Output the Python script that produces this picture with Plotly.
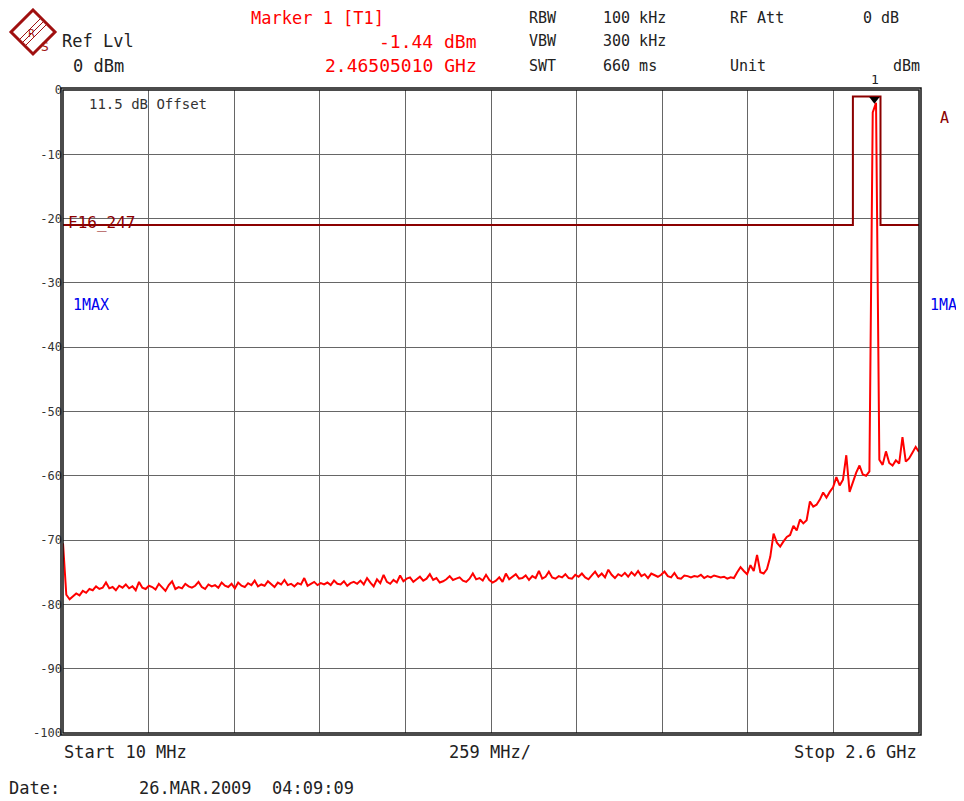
import plotly.graph_objects as go
import numpy as np

# sweep settings (MHz)
start_mhz = 10
stop_mhz = 2600
step_mhz = 10
div_mhz = 259

# trace 1 (max hold), dBm, one value per 10 MHz step from 10 MHz to 2600 MHz
trace_dbm = [
    -70.5, -78.5, -79.2, -78.8, -78.3, -78.6, -77.9, -78.2, -77.6, -77.8,
    -77.2, -77.6, -77.4, -76.6, -77.5, -77.3, -77.8, -77.1, -77.4, -76.9,
    -77.5, -77.2, -77.8, -76.5, -77.4, -77.6, -77.1, -77.3, -77.7, -76.8,
    -77.4, -77.9, -77.0, -76.4, -77.6, -77.3, -77.5, -76.8, -77.2, -77.4,
    -77.1, -76.5, -77.3, -77.6, -76.9, -77.2, -77.0, -77.4, -76.6, -77.1,
    -77.3, -76.8, -77.5, -76.6, -77.1, -77.3, -76.7, -77.0, -76.3, -77.2,
    -76.9, -77.1, -76.4, -76.8, -77.3, -76.6, -76.9, -76.2, -77.0, -76.8,
    -77.2, -76.7, -76.9, -75.9, -77.1, -76.8, -76.5, -77.0, -76.7, -76.9,
    -76.6, -77.0, -76.3, -76.8, -76.9, -76.4, -77.1, -76.7, -76.5, -76.8,
    -76.3, -76.9, -75.9, -76.6, -77.2, -76.1, -76.7, -75.4, -76.5, -76.8,
    -76.2, -76.6, -75.5, -76.4, -76.0, -75.8, -76.5, -76.1, -75.7, -76.3,
    -76.0, -75.3, -76.2, -75.9, -76.6, -76.4, -76.1, -75.6, -76.2, -76.0,
    -75.8, -76.3, -76.5, -76.0, -75.2, -76.1, -75.9, -76.3, -75.4, -76.2,
    -76.6, -76.3, -75.8, -76.5, -75.2, -76.1, -75.7, -75.3, -76.0, -75.9,
    -75.5, -76.2, -75.6, -75.9, -74.8, -76.0, -75.7, -74.9, -75.8, -76.0,
    -75.6, -75.8, -75.3, -75.9, -76.0, -75.4, -75.7, -75.2, -75.8, -76.1,
    -75.5, -74.9, -75.7, -75.2, -75.8, -74.6, -75.4, -75.9, -75.3, -75.6,
    -75.1, -75.7, -75.0, -75.5, -74.8, -75.6, -75.3, -75.9, -75.2, -75.4,
    -75.7, -75.4, -74.9, -75.6, -75.8, -75.1, -75.9, -76.0, -75.5, -75.6,
    -75.8, -75.6, -75.7, -75.4, -75.9, -75.6, -75.8, -75.5, -75.7, -75.8,
    -75.7, -76.0, -75.8, -75.9, -75.0, -74.2, -74.8, -75.3, -73.9, -74.8,
    -72.3, -75.0, -75.2, -74.5, -72.6, -69.0, -70.4, -71.0, -70.2, -69.5,
    -69.2, -67.8, -68.5, -66.8, -67.4, -66.9, -64.0, -64.8, -64.5, -63.7,
    -62.6, -63.4, -62.5, -61.8, -60.2, -61.5, -60.6, -56.8, -62.5, -61.0,
    -59.5, -58.4, -59.8, -60.0, -59.3, -3.5, -2.0, -57.5, -58.3, -56.2,
    -58.0, -58.4, -57.6, -58.1, -54.0, -57.8, -57.3, -56.4, -55.5, -56.3,
]
freq_mhz = np.arange(start_mhz, stop_mhz + step_mhz, step_mhz)

# limit line F16_247
limit_freq_mhz = [10, 2400, 2400, 2483.5, 2483.5, 2600]
limit_dbm = [-21, -21, -1, -1, -21, -21]

# marker 1
marker_freq_mhz = 2465.0501
marker_dbm = -1.44

y_ticks = list(range(-100, 1, 10))

# the page body has an 8px margin, so figure pixels = window pixels - 8
OFF = 8
W, H = 964 - OFF, 801 - OFF
L, R, T, B = 63 - OFF, 919 - OFF, 90 - OFF, 733 - OFF


def px(x, y):
    # x, y given in window pixels
    return (x - OFF - L) / (R - L), (B - (y - OFF)) / (B - T)


MONO = "DejaVu Sans Mono"
fig = go.Figure()

fig.add_trace(go.Scatter(x=limit_freq_mhz, y=limit_dbm, mode="lines",
                         line=dict(color="#8b0000", width=2), hoverinfo="skip"))
fig.add_trace(go.Scatter(x=freq_mhz, y=trace_dbm, mode="lines",
                         line=dict(color="#ff0000", width=2)))
fig.add_trace(go.Scatter(x=[marker_freq_mhz], y=[marker_dbm], mode="markers",
                         marker=dict(symbol="triangle-down", size=9, color="black")))

annots = []


def txt(x, y, s, color="#222", size=17, anchor="left"):
    ax, ay = px(x, y)
    annots.append(dict(x=ax, y=ay, xref="paper", yref="paper", text=s,
                       showarrow=False, xanchor=anchor, yanchor="middle",
                       borderpad=0, font=dict(family=MONO, size=size, color=color)))


# header
txt(317, 18, "Marker 1 [T1]", "#ff0000", size=17, anchor="center")
txt(478, 41, "-1.44 dBm", "#ff0000", size=18, anchor="right")
txt(478, 66, "2.46505010 GHz", "#ff0000", size=18, anchor="right")
txt(61, 41, "Ref Lvl")
txt(72, 66, "0 dBm")
txt(528, 18, "RBW", size=15)
txt(528, 41, "VBW", size=15)
txt(528, 66, "SWT", size=15)
txt(602, 18, "100 kHz", size=15)
txt(602, 41, "300 kHz", size=15)
txt(602, 66, "660 ms", size=15)
txt(729, 18, "RF Att", size=15)
txt(729, 66, "Unit", size=15)
txt(900, 18, "0 dB", size=15, anchor="right")
txt(921, 66, "dBm", size=15, anchor="right")

# inside / around the grid
txt(88, 104, "11.5 dB Offset", "#333", size=14)
txt(67, 222, "F16_247", "#8b0000", size=16)
txt(72, 305, "1MAX", "#0000ee", size=15)
txt(929, 305, "1MA", "#0000ee", size=15)
txt(944, 118, "A", "#8b0000", size=15, anchor="center")
txt(875, 80, "1", "#222", size=13, anchor="center")

# footer
txt(63, 752, "Start 10 MHz")
txt(490, 752, "259 MHz/", anchor="center")
txt(918, 752, "Stop 2.6 GHz", anchor="right")
txt(8, 788, "Date:")
txt(138, 788, "26.MAR.2009  04:09:09")

shapes = []
# double frame
for d in (0, 2):
    x0, y0 = px(63 - d, 733 + d)
    x1, y1 = px(919 + d, 90 - d)
    shapes.append(dict(type="rect", xref="paper", yref="paper", x0=x0, y0=y0,
                       x1=x1, y1=y1, line=dict(color="#111", width=1.5)))

# R&S logo
cx, cy, r = 33, 32, 22
pts = [px(cx, cy - r), px(cx + r, cy), px(cx, cy + r), px(cx - r, cy)]
path = "M " + " L ".join(f"{a},{b}" for a, b in pts) + " Z"
shapes.append(dict(type="path", xref="paper", yref="paper", path=path,
                   fillcolor="white", line=dict(color="#a01010", width=3)))
for o in (-3, 0, 3):
    a0, b0 = px(cx + 11 + o, cy - 11 + o)
    a1, b1 = px(cx - 11 + o, cy + 11 + o)
    shapes.append(dict(type="line", xref="paper", yref="paper", x0=a0, y0=b0,
                       x1=a1, y1=b1, line=dict(color="#a01010", width=1)))
ax_, ay_ = px(cx - 7, cy - 6)
annots.append(dict(x=ax_, y=ay_, xref="paper", yref="paper", text="R", showarrow=False,
                   font=dict(family="DejaVu Sans", size=10, color="#a01010")))
ax_, ay_ = px(cx + 6, cy + 6)
annots.append(dict(x=ax_, y=ay_, xref="paper", yref="paper", text="S", showarrow=False,
                   font=dict(family="DejaVu Sans", size=12, color="#a01010")))

fig.update_layout(
    width=W, height=H,
    margin=dict(l=L, r=W - R, t=T, b=H - B, pad=0),
    paper_bgcolor="white", plot_bgcolor="white",
    showlegend=False,
    annotations=annots,
    shapes=shapes,
    xaxis=dict(range=[start_mhz, stop_mhz], tick0=start_mhz, dtick=div_mhz,
               showgrid=True, gridcolor="#666", gridwidth=1,
               showticklabels=False, zeroline=False, fixedrange=True),
    yaxis=dict(range=[-100, 0], tickvals=y_ticks, ticktext=[str(v) for v in y_ticks],
               showgrid=True, gridcolor="#666", gridwidth=1, zeroline=False,
               ticks="", tickfont=dict(family=MONO, size=12, color="#333"),
               fixedrange=True),
)

fig.write_html("out.html")
